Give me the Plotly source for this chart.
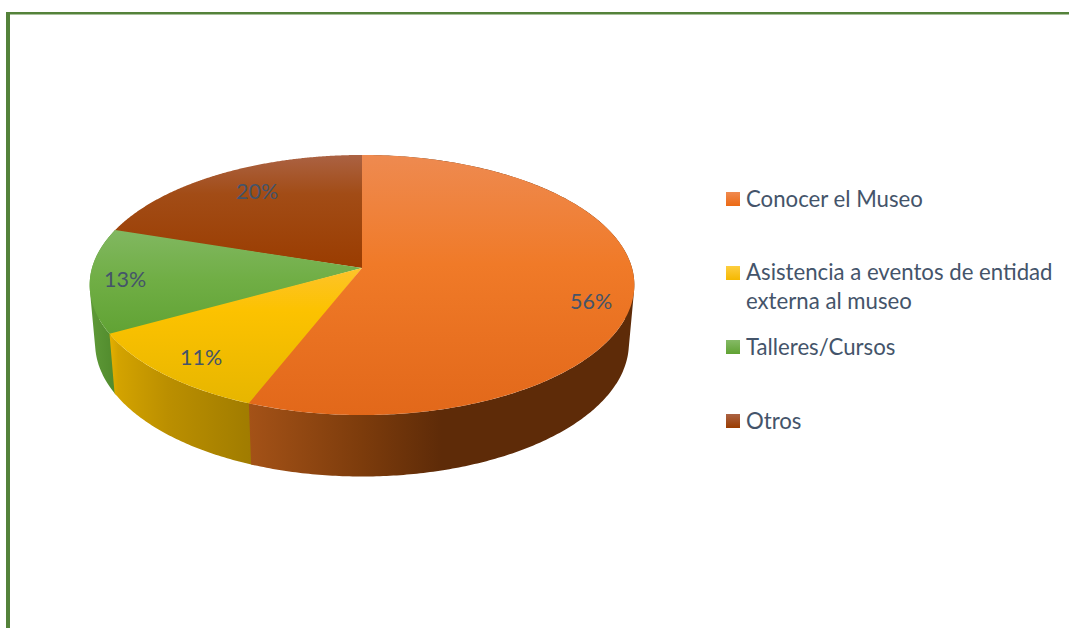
import numpy as np
import plotly.graph_objects as go

categories = ["Conocer el Museo", "Asistencia a eventos de entidad<br>externa al museo", "Talleres/Cursos", "Otros"]
values = [56, 11, 13, 20]
labels = ["56%", "11%", "13%", "20%"]

# styling, kept apart from the data
TEXT = "#44546a"
FONT = "Lato"
FS_PCT = 21.5
FS_LEG = 22.2
TOP_COLORS = [
    [[0, "#ee8a50"], [0.42, "#f07a28"], [1, "#e2681a"]],
    [[0, "#ee8a50"], [0.42, "#fdc32e"], [0.6, "#fcc200"], [1, "#e4b400"]],
    [[0, "#9fc78a"], [0.28, "#82b862"], [0.48, "#70ae45"], [0.7, "#60a233"], [1, "#60a233"]],
    [[0, "#ab6243"], [0.15, "#a24c16"], [0.44, "#9a3c00"], [1, "#9a3c00"]],
]
WALL_COLORS = [
    [[0, "#a45217"], [0.29, "#7d3c0c"], [0.5, "#5e2b08"], [1, "#5e2b08"]],
    [[0, "#e6b000"], [0.06, "#d3a300"], [0.4, "#bb8f00"], [1, "#9f7b00"]],
    [[0, "#5f9a38"], [1, "#508a2c"]],
    [[0, "#5a2a05"], [1, "#5a2a05"]],
]
SWATCH_ENDS = [("#f08a50", "#ec6a14"), ("#fdce40", "#f5b800"), ("#85ba66", "#60a233"), ("#ab6243", "#9a3c00")]
LEG_Y = [199, 273, 347, 421]
LEG_TXT_Y = [198, 286, 346, 420]
PCT_POS = [(591, 301), (201, 357), (125, 279), (257, 191)]

# projective view of the pie disc
CX = 362
K = 0.1308
OVERLAP = 0.012  # radians each slice runs under the one drawn after it


def top(t):
    u, v = np.sin(t), -np.cos(t)
    d = 1 - K * v
    return CX + 270 * u / d, 268 + 127.8 * v / d


def bottom(t):
    u, v = np.sin(t), -np.cos(t)
    d = 1 - K * v
    return CX + 264.6 * u / d, 325.8 + 131 * v / d


def signed_area(p):
    return sum(p[j][0] * p[(j + 1) % len(p)][1] - p[(j + 1) % len(p)][0] * p[j][1] for j in range(len(p))) / 2


fractions = np.array(values) / sum(values)
edges = np.concatenate([[0], np.cumsum(fractions)]) * 2 * np.pi


def slice_range(i):
    start = edges[i] - (OVERLAP if i > 0 else 0)
    stop = edges[i + 1] + (OVERLAP if i == 3 else 0)
    return start, stop


fig = go.Figure()

# side walls: many small quads, all wound the same way so that their union fills
for i in [3, 2, 1, 0]:
    a0, a1 = slice_range(i)
    t = np.linspace(a0, a1, max(int((a1 - a0) * 90), 4))
    visible = -np.cos(t) > -0.2
    if not visible.any():
        continue
    xs, ys = [], []
    for a, b in zip(t[:-1], t[1:]):
        p = [top(a), top(b), bottom(b), bottom(a)]
        if signed_area(p) < 0:
            p = p[::-1]
        p = p + [p[0]]
        xs += [q[0] for q in p] + [None]
        ys += [q[1] for q in p] + [None]
    xt, _ = top(t)
    xb, _ = bottom(t)
    lo = min(xt[visible].min(), xb[visible].min())
    hi = max(xt[visible].max(), xb[visible].max())
    fig.add_trace(go.Scatter(
        x=xs, y=ys, mode="lines", fill="toself", line=dict(width=0, simplify=False),
        fillgradient=dict(type="horizontal", colorscale=WALL_COLORS[i], start=lo, stop=hi),
        hoverinfo="skip", showlegend=False,
    ))

# top faces
for i in [3, 2, 1, 0]:
    a0, a1 = slice_range(i)
    t = np.linspace(a0, a1, 240)
    x, y = top(t)
    xs = np.concatenate([[CX], x, [CX]])
    ys = np.concatenate([[268], y, [268]])
    fig.add_trace(go.Scatter(
        x=xs, y=ys, mode="lines", fill="toself", line=dict(width=0, simplify=False),
        fillgradient=dict(type="vertical", colorscale=TOP_COLORS[i], start=155, stop=415),
        name=categories[i].replace("<br>", " "), hoverinfo="name", showlegend=False,
    ))

# legend swatches
for i in range(4):
    fig.add_trace(go.Scatter(
        x=[733], y=[LEG_Y[i]], mode="markers",
        marker=dict(symbol="square", size=14, color=SWATCH_ENDS[i][0], line=dict(width=0),
                    gradient=dict(type="vertical", color=SWATCH_ENDS[i][1])),
        hoverinfo="skip", showlegend=False,
    ))

annotations = []
for i in range(4):
    annotations.append(dict(
        x=PCT_POS[i][0], y=PCT_POS[i][1], text=labels[i], showarrow=False,
        xanchor="center", yanchor="middle", font=dict(family=FONT, size=FS_PCT, color=TEXT),
    ))
    annotations.append(dict(
        x=744, y=LEG_TXT_Y[i], text=categories[i], showarrow=False, align="left",
        xanchor="left", yanchor="middle", font=dict(family=FONT, size=FS_LEG, color=TEXT),
    ))

FRAME = "#54823a"
shapes = [
    dict(type="rect", x0=6, x1=10, y0=12, y1=628, fillcolor=FRAME, line=dict(width=0), layer="below"),
    dict(type="rect", x0=6, x1=1069, y0=12, y1=14.5, fillcolor=FRAME, line=dict(width=0), layer="below"),
]

fig.update_layout(
    width=1069, height=628, autosize=False,
    margin=dict(l=0, r=0, t=0, b=0),
    paper_bgcolor="white", plot_bgcolor="white",
    xaxis=dict(range=[0, 1069], visible=False, fixedrange=True),
    yaxis=dict(range=[628, 0], visible=False, fixedrange=True),
    annotations=annotations, shapes=shapes, showlegend=False,
)
fig.write_html(
    "out.html",
    config=dict(displayModeBar=False),
    post_script="document.body.style.margin='0';document.body.style.overflow='hidden';",
)
